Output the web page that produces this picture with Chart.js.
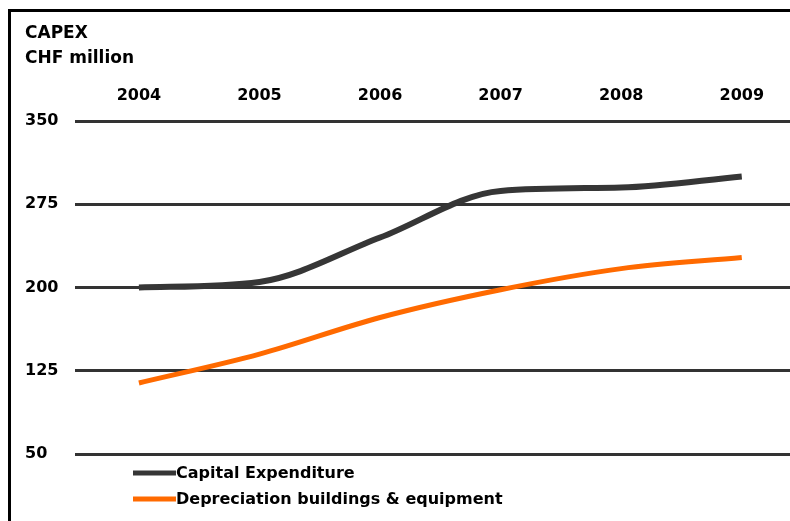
<!DOCTYPE html>
<html>
<head>
<meta charset="utf-8">
<title>CAPEX</title>
<script src="https://cdn.jsdelivr.net/npm/chart.js@4/dist/chart.umd.min.js"></script>
<style>
    html, body { margin: 0; padding: 0; background: #ffffff; }
    #wrap { width: 790px; height: 521px; position: relative; }
</style>
</head>
<body>
<div id="wrap"><canvas id="capex"></canvas></div>
<script>
// yearly figures, CHF million
const years = [2004, 2005, 2006, 2007, 2008, 2009];
const capitalExpenditure = [200, 205, 245, 287, 290, 300];
const depreciation = [114, 140, 173, 198, 217, 227];
const yTicks = [50, 125, 200, 275, 350];

const seriesNames = ["Capital Expenditure", "Depreciation buildings & equipment"];
const seriesColors = ["#363636", "#ff6a00"];

Chart.defaults.font.family = "'DejaVu Sans', 'Liberation Sans', sans-serif";
Chart.defaults.font.weight = "bold";
Chart.defaults.font.size = 16;
Chart.defaults.color = "#000000";

// black frame along the top and left edges
const framePlugin = {
    id: "frame",
    beforeDraw(chart) {
        const ctx = chart.ctx;
        ctx.save();
        ctx.strokeStyle = "#000000";
        ctx.lineWidth = 3;
        ctx.beginPath();
        ctx.moveTo(9.5, chart.height);
        ctx.lineTo(9.5, 10.5);
        ctx.lineTo(chart.width, 10.5);
        ctx.stroke();
        ctx.restore();
    }
};

// stacked legend under the plot
const stackedLegend = {
    id: "stackedLegend",
    afterDraw(chart) {
        const ctx = chart.ctx;
        const area = chart.chartArea;
        ctx.save();
        chart.data.datasets.forEach((ds, i) => {
            const y = area.bottom + 19 + i * 26;
            ctx.strokeStyle = ds.borderColor;
            ctx.lineWidth = 5;
            ctx.beginPath();
            ctx.moveTo(133, y);
            ctx.lineTo(176, y);
            ctx.stroke();
            ctx.fillStyle = "#000000";
            ctx.font = "bold 16px 'DejaVu Sans', sans-serif";
            ctx.textBaseline = "middle";
            ctx.textAlign = "left";
            ctx.fillText(ds.label, 176, y + 1);
        });
        ctx.restore();
    }
};

const toPoints = (vals) => vals.map((v, i) => ({ x: years[i], y: v }));

new Chart(document.getElementById("capex"), {
    type: "line",
    data: {
        datasets: [
            {
                label: seriesNames[0],
                data: toPoints(capitalExpenditure),
                borderColor: seriesColors[0],
                borderWidth: 6,
                pointRadius: 0,
                cubicInterpolationMode: "monotone"
            },
            {
                label: seriesNames[1],
                data: toPoints(depreciation),
                borderColor: seriesColors[1],
                borderWidth: 5,
                pointRadius: 0,
                cubicInterpolationMode: "monotone"
            }
        ]
    },
    options: {
        responsive: true,
        maintainAspectRatio: false,
        animation: false,
        layout: {
            padding: { top: 0, left: 25, right: 0, bottom: 67 }
        },
        plugins: {
            legend: { display: false },
            tooltip: { enabled: false },
            title: {
                display: true,
                text: ["CAPEX", "CHF million"],
                align: "start",
                color: "#000000",
                font: { size: 17, weight: "bold", lineHeight: "25px" },
                padding: { top: 21, bottom: 0 }
            }
        },
        scales: {
            x: {
                type: "linear",
                position: "top",
                min: 2003.47,
                max: 2009.4,
                grid: { display: false, drawTicks: false },
                border: { display: false },
                afterBuildTicks(scale) {
                    scale.ticks = years.map(v => ({ value: v }));
                },
                afterFit(scale) {
                    scale.height = 50;
                },
                ticks: {
                    padding: 16,
                    callback: (v) => String(v)
                }
            },
            y: {
                min: 50,
                max: 350,
                grid: { color: "#333333", lineWidth: 3, drawTicks: false },
                border: { display: false },
                afterBuildTicks(scale) {
                    scale.ticks = yTicks.map(v => ({ value: v }));
                },
                afterFit(scale) {
                    scale.width = 50;
                },
                ticks: {
                    crossAlign: "far",
                    padding: 0
                }
            }
        }
    },
    plugins: [framePlugin, stackedLegend]
});
</script>
</body>
</html>
